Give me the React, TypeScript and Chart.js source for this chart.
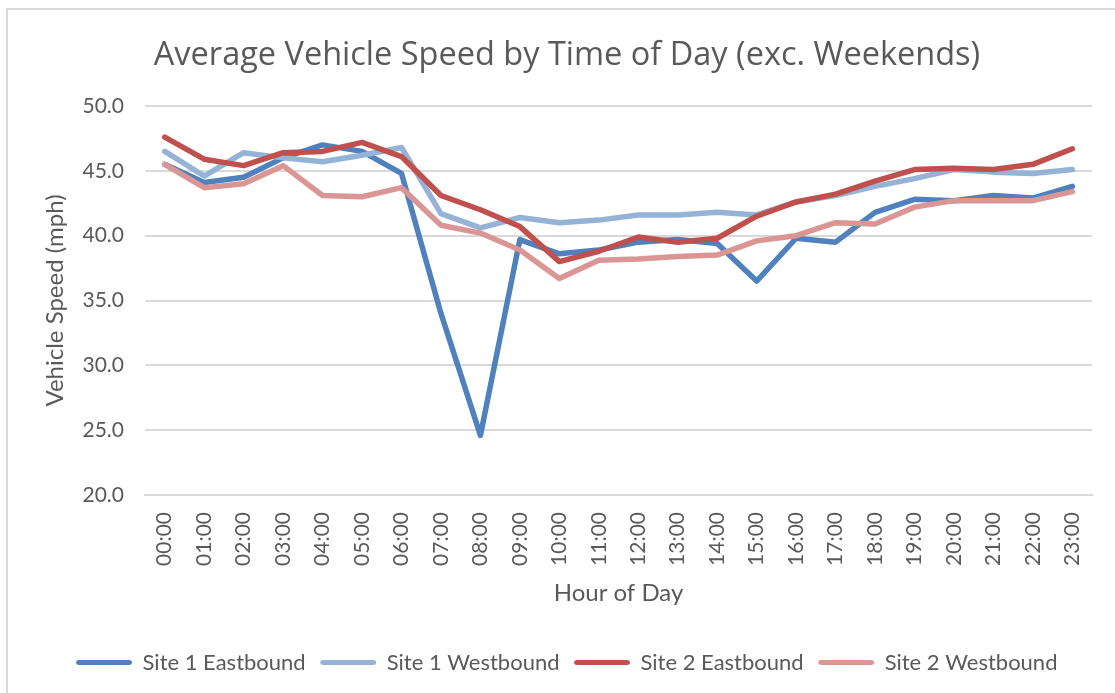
import React, { useEffect, useRef } from "react";
import { Chart, registerables } from "chart.js";

Chart.register(...registerables);

const hours = [
  "00:00", "01:00", "02:00", "03:00", "04:00", "05:00", "06:00", "07:00",
  "08:00", "09:00", "10:00", "11:00", "12:00", "13:00", "14:00", "15:00",
  "16:00", "17:00", "18:00", "19:00", "20:00", "21:00", "22:00", "23:00",
];

const site1East = [45.5, 44.1, 44.5, 46.0, 47.0, 46.5, 44.8, 34.0, 24.6, 39.7, 38.6, 38.9, 39.5, 39.7, 39.4, 36.5, 39.8, 39.5, 41.8, 42.8, 42.7, 43.1, 42.9, 43.8];
const site1West = [46.5, 44.6, 46.4, 46.0, 45.7, 46.2, 46.8, 41.7, 40.6, 41.4, 41.0, 41.2, 41.6, 41.6, 41.8, 41.6, 42.6, 43.1, 43.8, 44.4, 45.1, 44.9, 44.8, 45.1];
const site2East = [47.6, 45.9, 45.4, 46.4, 46.5, 47.2, 46.1, 43.1, 42.0, 40.7, 38.0, 38.8, 39.9, 39.5, 39.8, 41.5, 42.6, 43.2, 44.2, 45.1, 45.2, 45.1, 45.5, 46.7];
const site2West = [45.5, 43.7, 44.0, 45.4, 43.1, 43.0, 43.7, 40.8, 40.2, 38.9, 36.7, 38.1, 38.2, 38.4, 38.5, 39.6, 40.0, 41.0, 40.9, 42.2, 42.7, 42.7, 42.7, 43.4];

const seriesNames = ["Site 1 Eastbound", "Site 1 Westbound", "Site 2 Eastbound", "Site 2 Westbound"];
const seriesColors = ["#4F81BD", "#95B3D7", "#C0504D", "#DA9694"];

const titleText = "Average Vehicle Speed by Time of Day (exc. Weekends)";
const yTitle = "Vehicle Speed (mph)";
const xTitle = "Hour of Day";

const FONT = "Lato, 'Open Sans', sans-serif";
const TITLE_FONT = "'Open Sans', Lato, sans-serif";
const TEXT = "#595959";
const GRID = "#d9d9d9";

export default function App() {
  const ref = useRef<HTMLCanvasElement | null>(null);

  useEffect(() => {
    if (!ref.current) return;
    const values = [site1East, site1West, site2East, site2West];
    const chart = new Chart(ref.current, {
      type: "line",
      data: {
        labels: hours,
        datasets: values.map((v, i) => ({
          label: seriesNames[i],
          data: v,
          borderColor: seriesColors[i],
          backgroundColor: seriesColors[i],
          borderWidth: 5.5,
          pointRadius: 0,
          tension: 0,
          borderCapStyle: "round" as const,
          borderJoinStyle: "round" as const,
          order: 4 - i,
        })),
      },
      options: {
        responsive: false,
        animation: false,
        layout: { padding: { left: 41, right: 22, top: 0, bottom: 9.5 } },
        plugins: {
          tooltip: { enabled: false },
          title: {
            display: true,
            text: titleText,
            color: TEXT,
            font: { family: TITLE_FONT, size: 32.5, weight: "normal" },
            padding: { top: 36, bottom: 31 },
          },
          legend: {
            position: "bottom",
            labels: {
              color: TEXT,
              font: { family: FONT, size: 22 },
              boxWidth: 55,
              boxHeight: 4,
              padding: 15,
              useBorderRadius: true,
              borderRadius: 2,
              sort: (a: any, b: any) => a.datasetIndex - b.datasetIndex,
              generateLabels: (c: any) =>
                Chart.defaults.plugins.legend.labels.generateLabels(c).map((l: any) => ({
                  ...l,
                  lineWidth: 1,
                  borderRadius: 2,
                })),
            },
          },
        },
        scales: {
          x: {
            offset: true,
            grid: { display: false, drawTicks: false, offset: true },
            border: { display: true, color: GRID, width: 2 },
            ticks: {
              color: TEXT,
              font: { family: FONT, size: 21 },
              maxRotation: 90,
              minRotation: 90,
              padding: 17,
              autoSkip: false,
            },
            title: {
              display: true,
              text: xTitle,
              color: TEXT,
              font: { family: FONT, size: 24 },
              padding: { top: 0, bottom: 29.1 },
            },
            afterFit: (s: any) => {
              s.height = 141.5;
            },
          },
          y: {
            min: 20,
            max: 50,
            grid: { color: GRID, lineWidth: 2, drawTicks: false },
            border: { display: false },
            ticks: {
              stepSize: 5,
              color: TEXT,
              font: { family: FONT, size: 21 },
              padding: 21,
              callback: (v: any) => Number(v).toFixed(1),
            },
            title: {
              display: true,
              text: yTitle,
              color: TEXT,
              font: { family: FONT, size: 24 },
              padding: { top: 0, bottom: 0 },
            },
            afterFit: (s: any) => {
              s.width = 104;
            },
          },
        },
      },
    });
    return () => chart.destroy();
  }, []);

  return (
    <div style={{ position: "absolute", left: 0, top: 0, width: 1115, height: 693, overflow: "hidden", background: "#ffffff" }}>
      <div
        style={{
          position: "absolute",
          left: 6,
          top: 8,
          width: 1200,
          height: 800,
          borderLeft: `2px solid ${GRID}`,
          borderTop: `2px solid ${GRID}`,
        }}
      />
      <canvas ref={ref} width={1115} height={693} style={{ position: "absolute", left: 0, top: 0 }} />
    </div>
  );
}
